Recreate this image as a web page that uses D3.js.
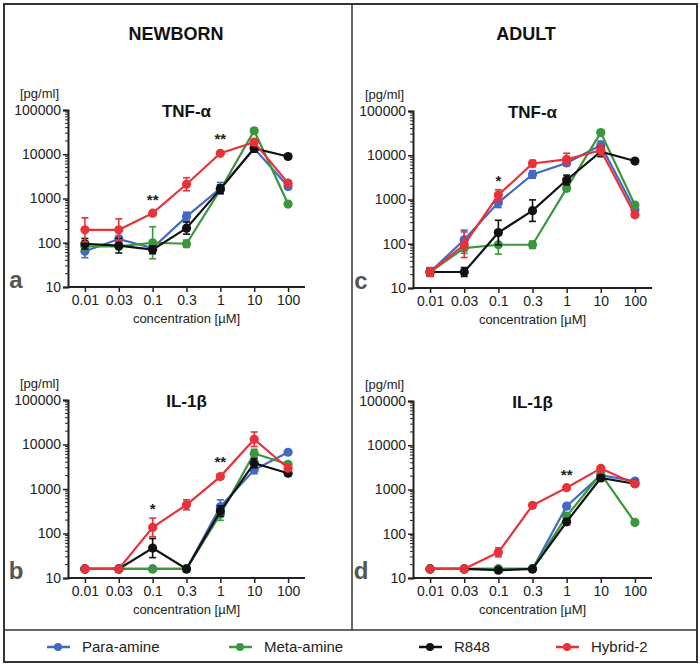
<!DOCTYPE html>
<html><head><meta charset="utf-8">
<script src="https://cdn.jsdelivr.net/npm/d3@7"></script>
<style>body{margin:0;background:#fff}svg{display:block}text{font-family:"Liberation Sans",Arial,Helvetica,sans-serif}</style>
</head><body><svg id="c" width="700" height="667"></svg>
<script>
// ---- data ----
const concentrations = ["0.01","0.03","0.1","0.3","1","10","100"];
const seriesNames = ["Para-amine","Meta-amine","R848","Hybrid-2"];
const seriesColors = ["#4468c4","#3a973e","#111111","#e8323a"];
const yTickValues = [10,100,1000,10000,100000];

// Newborn TNF-α (panel a)
const nbTnfPara   = [64,121,76,390,1700,13600,1870];
const nbTnfParaErr= [25,25,28,100,600,2500,300];
const nbTnfMeta   = [83,83,100,95,1580,34000,750];
const nbTnfMetaErr= [15,15,130,20,300,4000,100];
const nbTnfR848   = [95,86,70,214,1630,13600,8900];
const nbTnfR848Err= [30,40,15,80,400,3000,1000];
const nbTnfHyb    = [196,196,467,2100,10500,18700,2220];
const nbTnfHybErr = [170,150,50,850,800,3000,300];
const nbTnfSig = [{i:2,t:"**",v:1050},{i:4,t:"**",v:24500}];

// Adult TNF-α (panel c)
const adTnfPara   = [23,123,850,3680,6700,16900,580];
const adTnfParaErr= [5,80,250,800,1000,4000,100];
const adTnfMeta   = [23,80,95,95,1790,32500,750];
const adTnfMetaErr= [5,25,60,20,300,4000,100];
const adTnfR848   = [23,23,179,560,2760,12000,7400];
const adTnfR848Err= [5,6,160,420,800,3500,800];
const adTnfHyb    = [23,95,1260,6500,8100,13000,450];
const adTnfHybErr = [6,90,400,1200,3000,4000,60];
const adTnfSig = [{i:2,t:"*",v:2900}];

// Newborn IL-1β (panel b)
const nbIlPara    = [16,16,16,16,400,2700,6700];
const nbIlParaErr = [0,0,0,0,170,600,600];
const nbIlMeta    = [16,16,16,16,270,6300,3600];
const nbIlMetaErr = [0,0,0,0,100,1500,400];
const nbIlR848    = [16,16,47,16,320,3800,2260];
const nbIlR848Err = [0,0,30,0,100,1000,300];
const nbIlHyb     = [16,16,137,442,1900,13100,2930];
const nbIlHybErr  = [0,0,85,130,200,6000,400];
const nbIlSig = [{i:2,t:"*",v:400},{i:4,t:"**",v:4500}];

// Adult IL-1β (panel d)
const adIlPara    = [16,16,16,16,420,2100,1550];
const adIlParaErr = [0,0,0,0,60,300,200];
const adIlMeta    = [16,16,16,16,250,2260,180];
const adIlMetaErr = [0,0,0,0,40,300,20];
const adIlR848    = [16,16,15,16,186,1820,1350];
const adIlR848Err = [0,0,0,0,30,300,150];
const adIlHyb     = [16,16,38,440,1100,3000,1350];
const adIlHybErr  = [0,0,10,60,100,300,150];
const adIlSig = [{i:4,t:"**",v:2400}];

// ---- drawing ----
const svg = d3.select("#c");
const ink = "#222";

// frame
svg.append("rect").attr("x",4).attr("y",4).attr("width",693).attr("height",658)
  .attr("fill","none").attr("stroke","#333").attr("stroke-width",2);
svg.append("line").attr("x1",352).attr("x2",352).attr("y1",4).attr("y2",630).attr("stroke","#333").attr("stroke-width",1.5);
svg.append("line").attr("x1",4).attr("x2",697).attr("y1",630).attr("y2",630).attr("stroke","#333").attr("stroke-width",1.5);

svg.append("text").attr("x",176).attr("y",40).attr("text-anchor","middle")
  .attr("font-size",18).attr("font-weight","bold").attr("fill","#111").text("NEWBORN");
svg.append("text").attr("x",526).attr("y",40).attr("text-anchor","middle")
  .attr("font-size",18).attr("font-weight","bold").attr("fill","#111").text("ADULT");

const panels = [
  {letter:"a", title:"TNF-α", x0:68, x1:305, yT:110, yB:287,
   vals:[nbTnfPara,nbTnfMeta,nbTnfR848,nbTnfHyb], errs:[nbTnfParaErr,nbTnfMetaErr,nbTnfR848Err,nbTnfHybErr], sig:nbTnfSig},
  {letter:"b", title:"IL-1β", x0:68, x1:305, yT:400, yB:578,
   vals:[nbIlPara,nbIlMeta,nbIlR848,nbIlHyb], errs:[nbIlParaErr,nbIlMetaErr,nbIlR848Err,nbIlHybErr], sig:nbIlSig},
  {letter:"c", title:"TNF-α", x0:413, x1:652, yT:111, yB:288,
   vals:[adTnfPara,adTnfMeta,adTnfR848,adTnfHyb], errs:[adTnfParaErr,adTnfMetaErr,adTnfR848Err,adTnfHybErr], sig:adTnfSig},
  {letter:"d", title:"IL-1β", x0:413, x1:652, yT:401, yB:578,
   vals:[adIlPara,adIlMeta,adIlR848,adIlHyb], errs:[adIlParaErr,adIlMetaErr,adIlR848Err,adIlHybErr], sig:adIlSig}
];

panels.forEach(p => {
  const g = svg.append("g");
  const x = d3.scalePoint().domain(concentrations).range([p.x0, p.x1]).padding(0.5);
  const y = d3.scaleLog().domain([10,100000]).range([p.yB, p.yT]).clamp(true);

  // y minor ticks
  const minor = [];
  for (let d = 10; d < 100000; d *= 10) for (let k = 2; k <= 9; k++) minor.push(d*k);
  g.selectAll(".mn").data(minor).join("line")
    .attr("x1",p.x0).attr("x2",p.x0-3).attr("y1",d=>y(d)).attr("y2",d=>y(d))
    .attr("stroke",ink).attr("stroke-width",1);

  const yAxis = g.append("g").attr("transform",`translate(${p.x0},0)`)
    .call(d3.axisLeft(y).tickValues(yTickValues).tickFormat(d3.format("d")).tickSize(5).tickPadding(2));
  yAxis.select(".domain").attr("stroke",ink).attr("stroke-width",2);
  yAxis.selectAll(".tick line").attr("stroke",ink).attr("stroke-width",1.5);
  yAxis.selectAll("text").attr("font-size",14).attr("fill","#222")
    .style("font-family","'Liberation Sans',Arial,sans-serif");

  const xAxis = g.append("g").attr("transform",`translate(0,${p.yB})`)
    .call(d3.axisBottom(x).tickSize(5).tickSizeOuter(0).tickPadding(3));
  xAxis.select(".domain").attr("stroke",ink).attr("stroke-width",2)
    .attr("d",`M${p.x0},0H${p.x1}`);
  xAxis.selectAll(".tick line").attr("stroke",ink).attr("stroke-width",1.5);
  xAxis.selectAll("text").attr("font-size",14).attr("fill","#222")
    .style("font-family","'Liberation Sans',Arial,sans-serif");

  g.append("text").attr("x",(p.x0+p.x1)/2).attr("y",p.yB+36).attr("text-anchor","middle")
    .attr("font-size",13).attr("fill","#222").text("concentration [µM]");
  g.append("text").attr("x",p.x0-48).attr("y",p.yT-12)
    .attr("font-size",13).attr("fill","#222").text("[pg/ml]");
  g.append("text").attr("x",(p.x0+p.x1)/2).attr("y",p.yT+7).attr("text-anchor","middle")
    .attr("font-size",17).attr("font-weight","bold").attr("fill","#111").text(p.title);
  g.append("text").attr("x",p.x0-52).attr("y",p.yB+1).attr("text-anchor","middle")
    .attr("font-size",24).attr("font-weight","bold").attr("fill","#555").text(p.letter);

  const line = d3.line().x((d,i)=>x(concentrations[i])).y(d=>y(d));
  p.vals.forEach((vals, s) => {
    const col = seriesColors[s];
    const errs = p.errs[s];
    const sg = g.append("g");
    sg.append("path").datum(vals).attr("d",line).attr("fill","none")
      .attr("stroke",col).attr("stroke-width",2.2);
    const eb = vals.map((v,i)=>({i, v, hi:v+errs[i], lo:v*v/(v+errs[i])})).filter(d=>errs[d.i]>0);
    sg.selectAll(".eb").data(eb).join("line")
      .attr("x1",d=>x(concentrations[d.i])).attr("x2",d=>x(concentrations[d.i]))
      .attr("y1",d=>y(d.hi)).attr("y2",d=>y(d.lo)).attr("stroke",col).attr("stroke-width",1.6);
    ["hi","lo"].forEach(k=>{
      sg.selectAll(".cap"+k).data(eb).join("line")
        .attr("x1",d=>x(concentrations[d.i])-3.5).attr("x2",d=>x(concentrations[d.i])+3.5)
        .attr("y1",d=>y(d[k])).attr("y2",d=>y(d[k])).attr("stroke",col).attr("stroke-width",1.6);
    });
    sg.selectAll("circle").data(vals).join("circle")
      .attr("cx",(d,i)=>x(concentrations[i])).attr("cy",d=>y(d)).attr("r",4.6).attr("fill",col);
  });

  g.selectAll(".sig").data(p.sig).join("text")
    .attr("x",d=>x(concentrations[d.i])).attr("y",d=>y(d.v)+7).attr("text-anchor","middle")
    .attr("font-size",15).attr("font-weight","bold").attr("fill","#222").text(d=>d.t);
});

// legend
const legX = [58, 240, 430, 567];
const lg = svg.append("g");
seriesNames.forEach((n,i)=>{
  lg.append("line").attr("x1",legX[i]-11).attr("x2",legX[i]+12).attr("y1",647).attr("y2",647)
    .attr("stroke",seriesColors[i]).attr("stroke-width",2.5);
  lg.append("circle").attr("cx",legX[i]).attr("cy",647).attr("r",4).attr("fill",seriesColors[i]);
  lg.append("text").attr("x",legX[i]+24).attr("y",652).attr("font-size",15).attr("fill","#222").text(n);
});
</script></body></html>
